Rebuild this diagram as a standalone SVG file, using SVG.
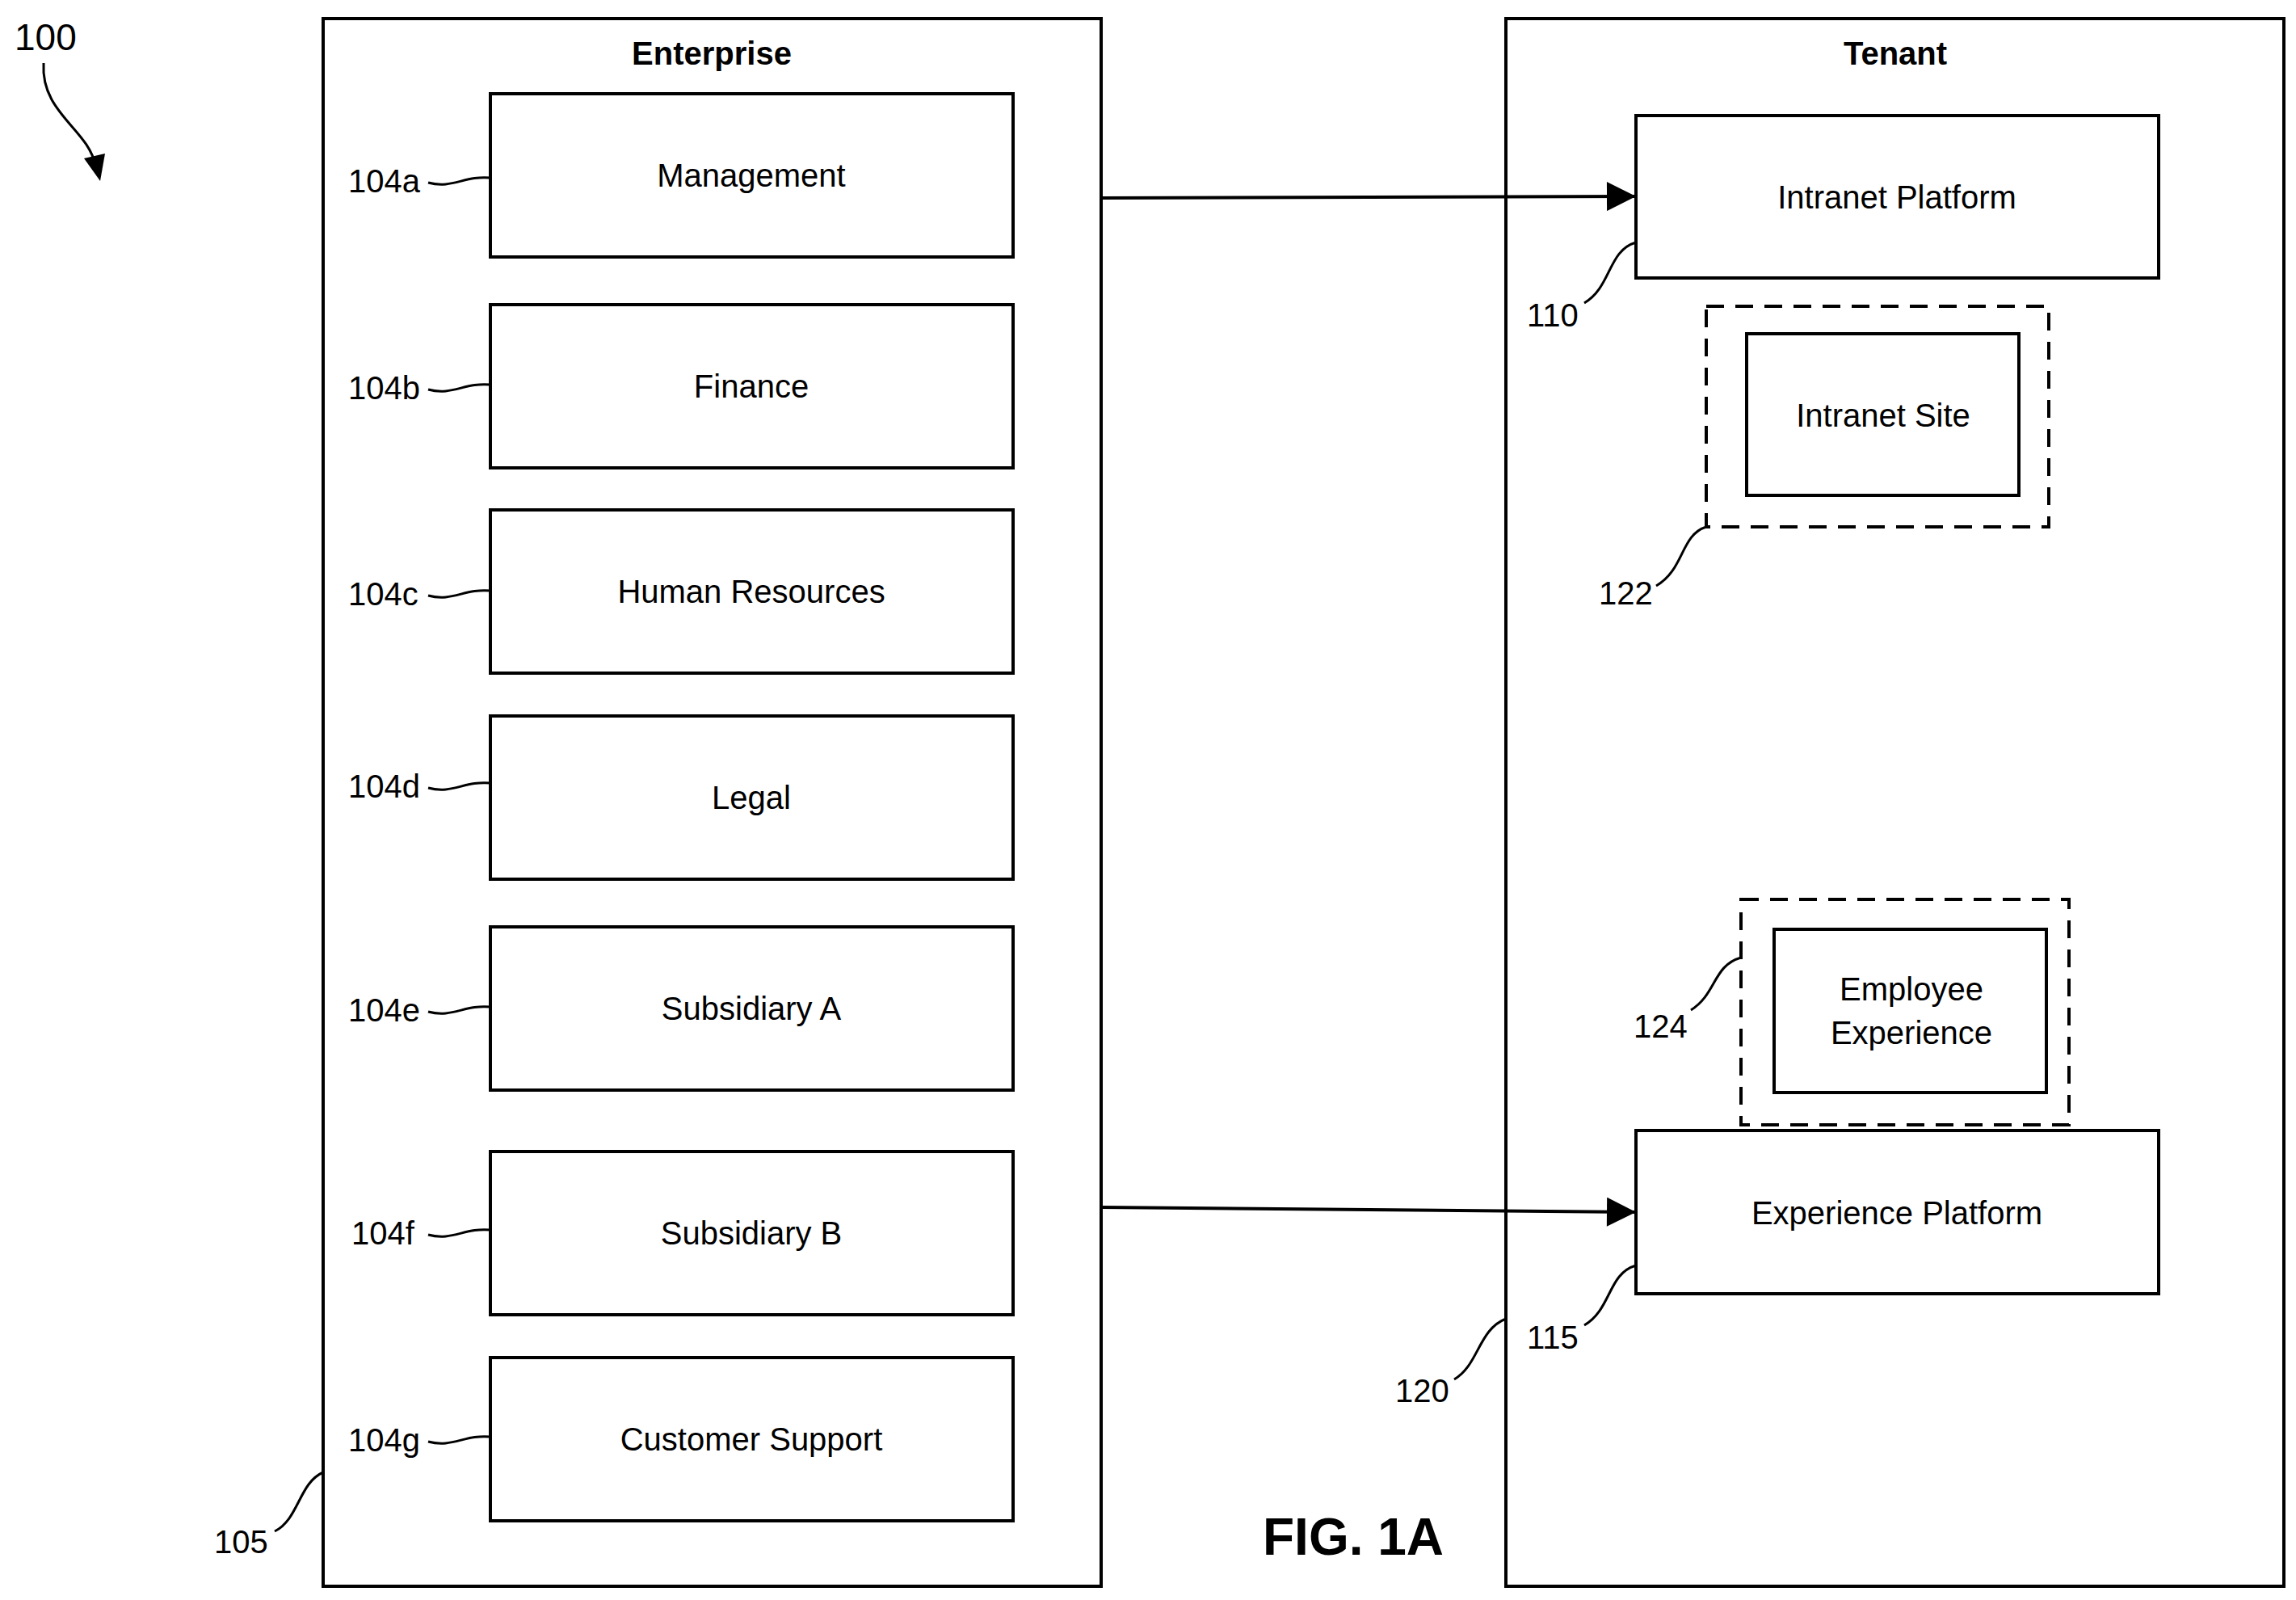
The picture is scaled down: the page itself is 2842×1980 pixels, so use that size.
<svg xmlns="http://www.w3.org/2000/svg" width="2842" height="1980" viewBox="0 0 2842 1980">
<style>
.b{fill:#fff;stroke:#000;stroke-width:4}
.d{fill:none;stroke:#000;stroke-width:4;stroke-dasharray:22,14}
.l{fill:none;stroke:#000;stroke-width:3}
.c{fill:none;stroke:#000;stroke-width:4}
text{font-family:"Liberation Sans",Arial,sans-serif;font-size:40px;fill:#000}
.m{text-anchor:middle}
.h{font-weight:bold;font-size:40px}
</style>
<defs>
<marker id="a2" viewBox="0 0 10 10" refX="10" refY="5" markerWidth="44" markerHeight="36" orient="auto" markerUnits="userSpaceOnUse"><path d="M0,0L10,5L0,10z"/></marker></defs>
<rect width="2842" height="1980" fill="#fff"/>
<g id="ref100"><text x="18" y="62" style="font-size:46px">100</text><path class="l" d="M54,78 C50,140 110,160 118,205"/><path d="M104,196 L124,224 L130,190 Z"/></g>
<g id="enterprise"><rect class="b" x="400" y="23" width="963" height="1940"/><text class="m h" x="881" y="80">Enterprise</text>
<text x="265" y="1922">105</text><path class="l" d="M340,1895 C370,1880 370,1835 400,1822"/></g>
<g id="n104a"><rect class="b" x="607" y="116" width="647" height="202"/><text class="m" x="930" y="231">Management</text><text x="431" y="238">104a</text><path class="l" d="M530,226 C560,234 575,217 607,220"/></g>
<g id="n104b"><rect class="b" x="607" y="377" width="647" height="202"/><text class="m" x="930" y="492">Finance</text><text x="431" y="494">104b</text><path class="l" d="M530,482 C560,490 575,473 607,476"/></g>
<g id="n104c"><rect class="b" x="607" y="631" width="647" height="202"/><text class="m" x="930" y="746">Human Resources</text><text x="431" y="749">104c</text><path class="l" d="M530,737 C560,745 575,728 607,731"/></g>
<g id="n104d"><rect class="b" x="607" y="886" width="647" height="202"/><text class="m" x="930" y="1001">Legal</text><text x="431" y="987">104d</text><path class="l" d="M530,975 C560,983 575,966 607,969"/></g>
<g id="n104e"><rect class="b" x="607" y="1147" width="647" height="202"/><text class="m" x="930" y="1262">Subsidiary A</text><text x="431" y="1264">104e</text><path class="l" d="M530,1252 C560,1260 575,1243 607,1246"/></g>
<g id="n104f"><rect class="b" x="607" y="1425" width="647" height="202"/><text class="m" x="930" y="1540">Subsidiary B</text><text x="435" y="1540">104f</text><path class="l" d="M530,1528 C560,1536 575,1519 607,1522"/></g>
<g id="n104g"><rect class="b" x="607" y="1680" width="647" height="202"/><text class="m" x="930" y="1795">Customer Support</text><text x="431" y="1796">104g</text><path class="l" d="M530,1784 C560,1792 575,1775 607,1778"/></g>
<g id="tenant"><rect class="b" x="1864" y="23" width="963" height="1940"/><text class="m h" x="2346" y="80">Tenant</text>
<text x="1727" y="1735">120</text><path class="l" d="M1800,1707 C1830,1690 1830,1645 1864,1632"/></g>
<g id="n110"><rect class="b" x="2025" y="143" width="647" height="201"/><text class="m" x="2348" y="258">Intranet Platform</text><text x="1890" y="404">110</text><path class="l" d="M1961,375 C1995,355 1990,310 2025,300"/></g>
<g id="n122"><rect class="d" x="2112" y="379" width="424" height="273"/><rect class="b" x="2162" y="413" width="337" height="200"/><text class="m" x="2331" y="528">Intranet Site</text><text x="1979" y="748">122</text><path class="l" d="M2050,725 C2085,705 2080,662 2112,652"/></g>
<g id="n124"><rect class="d" x="2155" y="1113" width="406" height="279"/><rect class="b" x="2196" y="1150" width="337" height="202"/><text class="m" x="2366" y="1238">Employee</text><text class="m" x="2366" y="1292">Experience</text><text x="2022" y="1284">124</text><path class="l" d="M2093,1250 C2125,1230 2120,1195 2155,1185"/></g>
<g id="n115"><rect class="b" x="2025" y="1399" width="647" height="202"/><text class="m" x="2348" y="1515">Experience Platform</text><text x="1890" y="1669">115</text><path class="l" d="M1961,1640 C1995,1620 1990,1576 2025,1566"/></g>
<text x="1563" y="1924" style="font-size:64px;font-weight:bold">FIG. 1A</text>
<g id="connectors"><path class="c" d="M1363,245 L2025,243" marker-end="url(#a2)"/><path class="c" d="M1363,1494 L2025,1500" marker-end="url(#a2)"/></g>
</svg>
